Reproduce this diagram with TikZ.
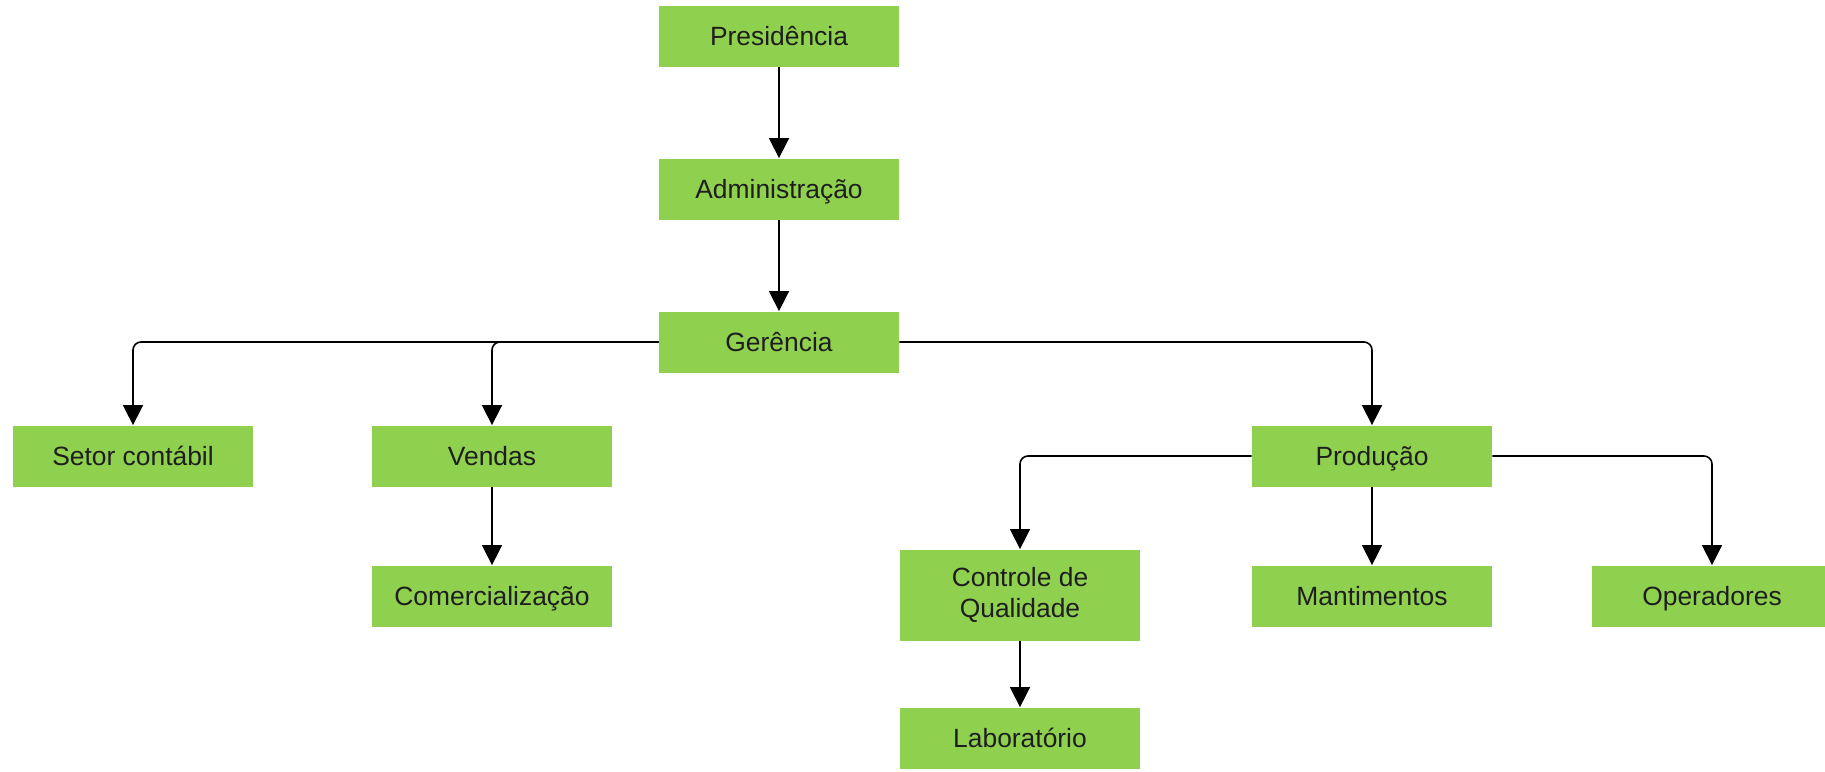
\documentclass[tikz,border=0pt]{standalone}
\usepackage{fontspec}
\setmainfont{Liberation Sans}
\usetikzlibrary{arrows.meta}
\definecolor{boxgreen}{HTML}{8FD14F}
\definecolor{boxtext}{HTML}{1E1E1E}
\begin{document}
\begin{tikzpicture}[x=0.5pt, y=-0.5pt,
  unit/.style={fill=boxgreen, text=boxtext, minimum width=120pt, minimum height=30.5pt,
    inner sep=0pt, font=\fontsize{13.2pt}{15.5pt}\selectfont, align=center},
  oneline/.style={unit, text height=9.6pt, text depth=0pt},
  link/.style={draw=black, line width=0.8pt, rounded corners=4pt,
    -{Triangle[length=10pt, width=10pt]}}]
  \useasboundingbox (0,0) rectangle (1825,771);
  \clip (0,0) rectangle (1825,771);

  % hierarchy boxes
  \node[oneline] (pres)  at (779,36)   {Presidência};
  \node[oneline] (adm)   at (779,189)  {Administração};
  \node[oneline] (ger)   at (779,342)  {Gerência};
  \node[oneline] (setor) at (133,456)  {Setor contábil};
  \node[oneline] (vend)  at (492,456)  {Vendas};
  \node[oneline] (com)   at (492,596)  {Comercialização};
  \node[oneline] (prod)  at (1372,456) {Produção};
  \node[unit, minimum height=45.5pt] (ctrl) at (1020,595) {Controle de\\Qualidade};
  \node[oneline] (mant)  at (1372,596) {Mantimentos};
  \node[oneline] (oper)  at (1712,596) {Operadores};
  \node[oneline] (lab)   at (1020,738) {Laboratório};

  % connectors
  \draw[link] (pres.south) -- (adm.north);
  \draw[link] (adm.south) -- (ger.north);
  \draw[link] (ger.west) -| (setor.north);
  \draw[link] (ger.west) -| (vend.north);
  \draw[link] (ger.east) -| (prod.north);
  \draw[link] (vend.south) -- (com.north);
  \draw[link] (prod.west) -| (ctrl.north);
  \draw[link] (prod.south) -- (mant.north);
  \draw[link] (prod.east) -| (oper.north);
  \draw[link] (ctrl.south) -- (lab.north);
\end{tikzpicture}
\end{document}
